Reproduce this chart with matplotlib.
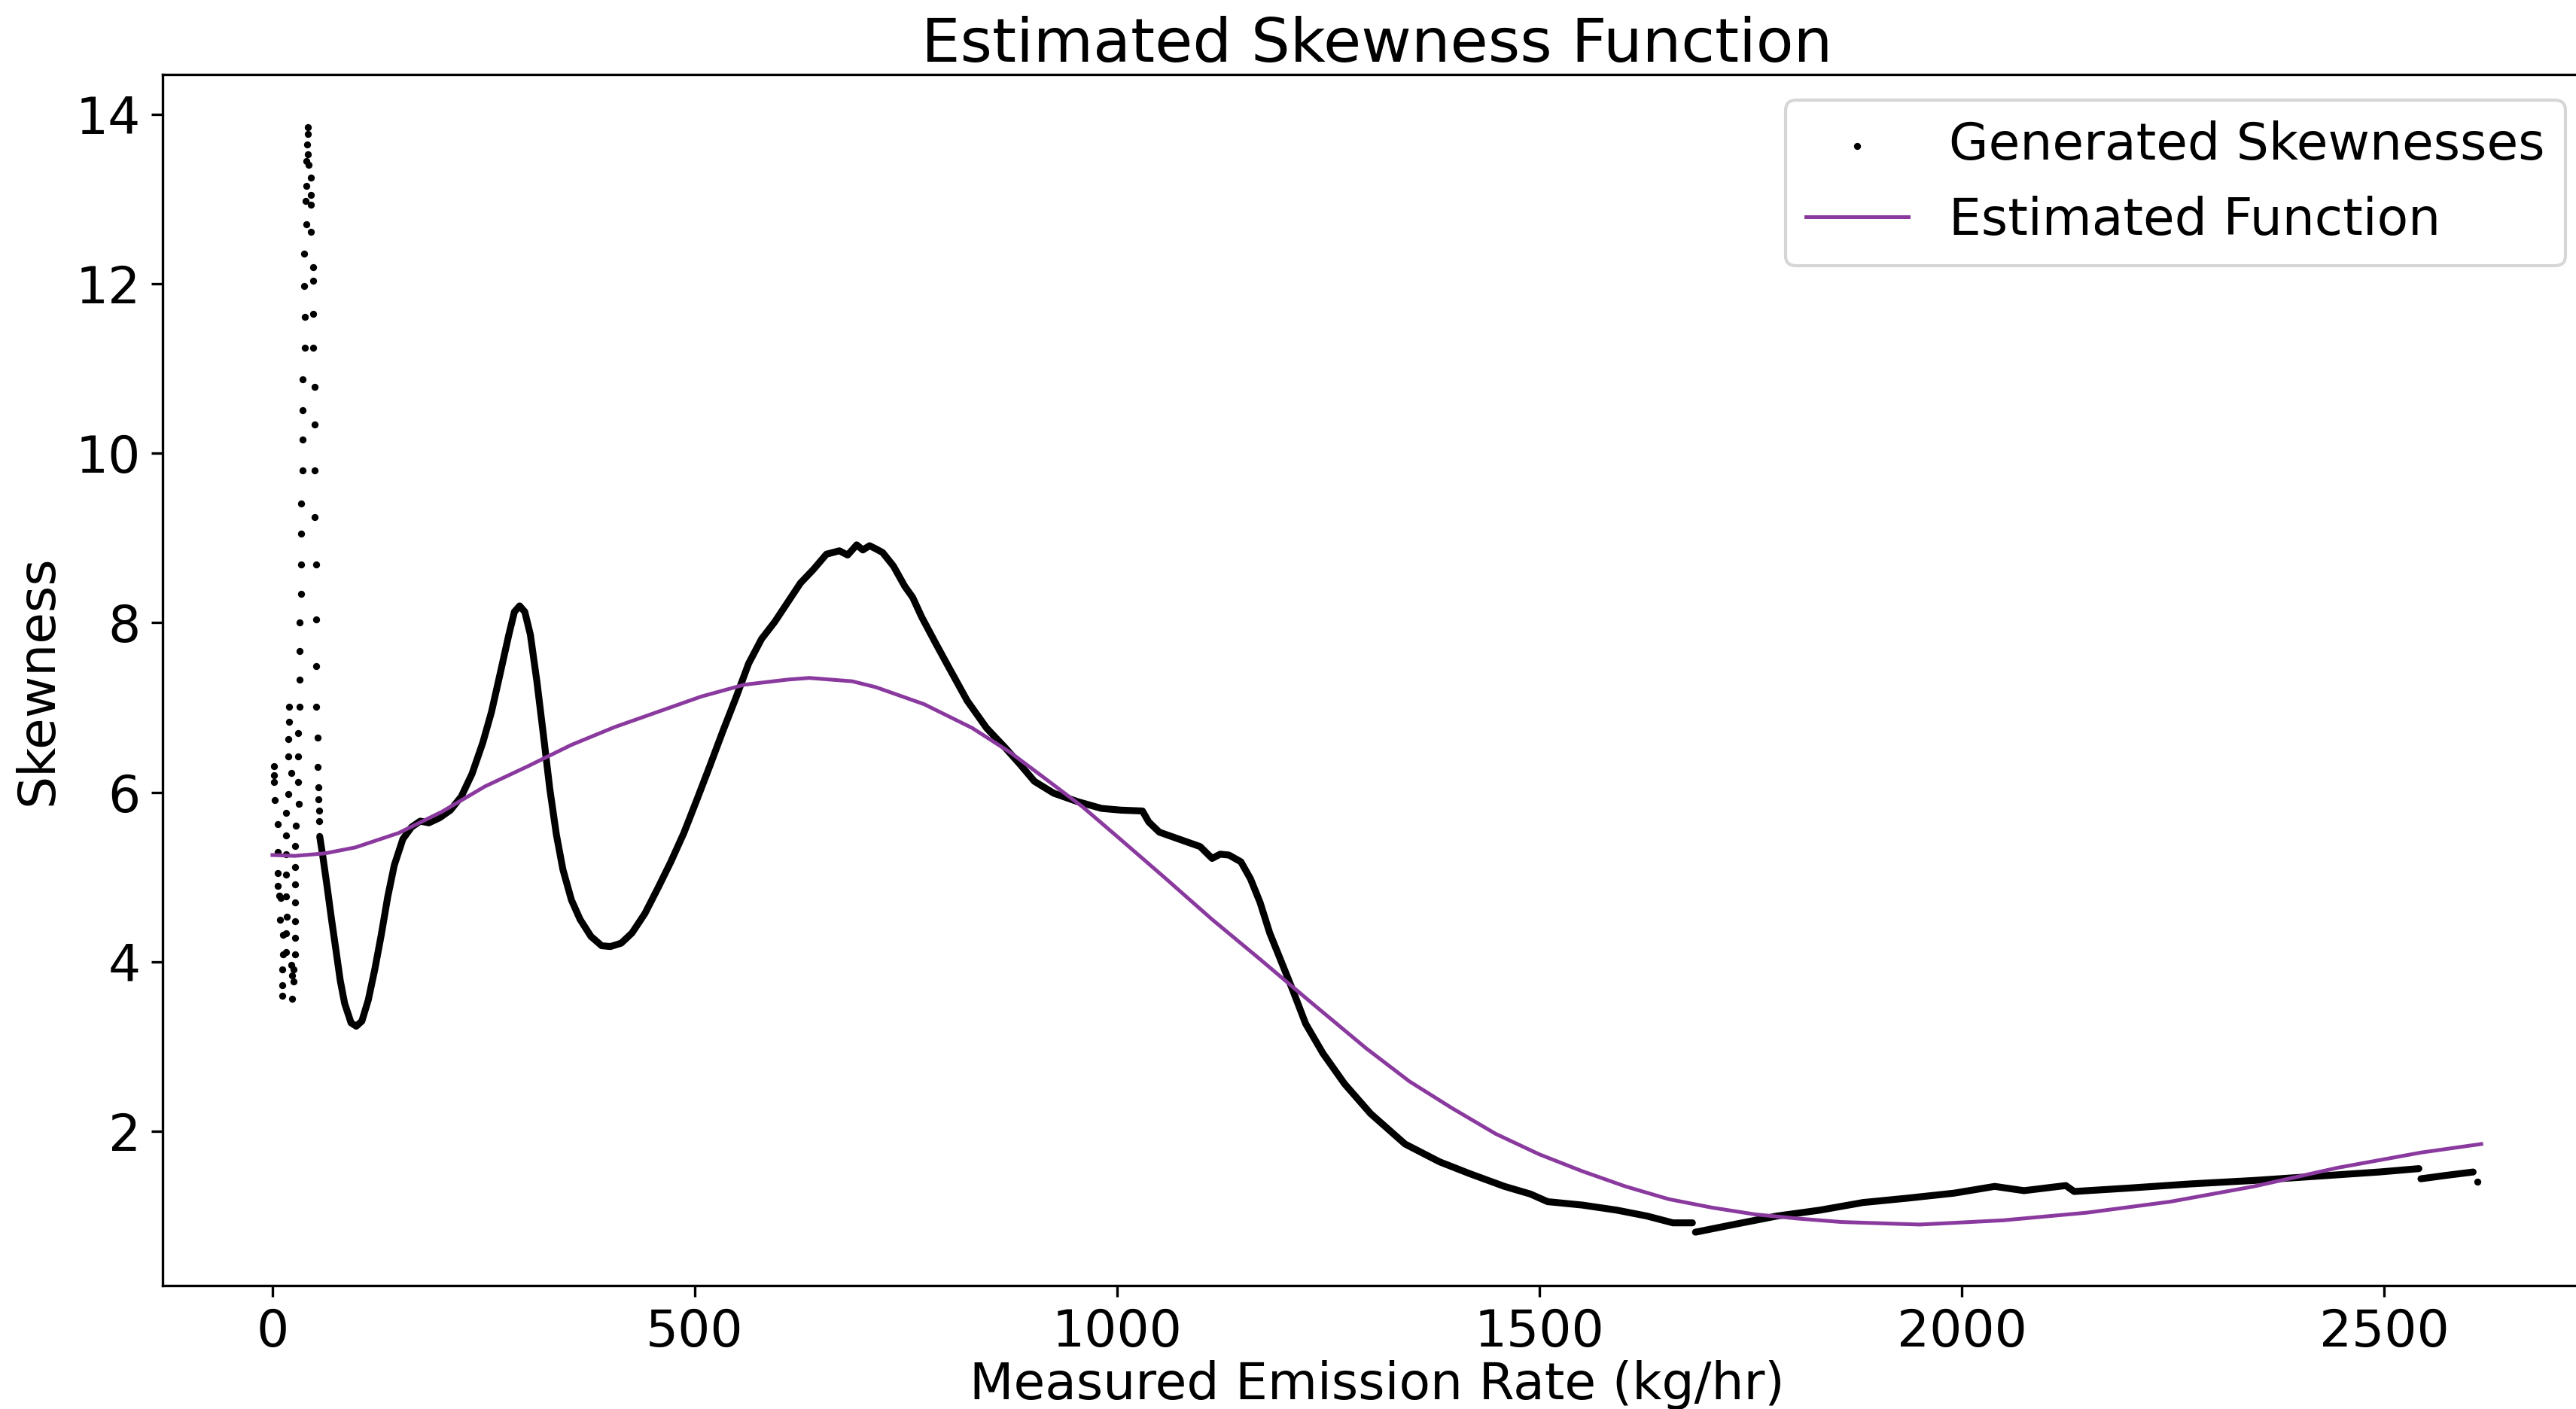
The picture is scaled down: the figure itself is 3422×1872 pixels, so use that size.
import numpy as np
import matplotlib
matplotlib.use('Agg')
import matplotlib.pyplot as plt

# sparse generated skewness points at the low end (x < ~56)
sparseX = [2, 2, 2, 3, 6.5, 6.5, 6.5, 6.5, 8, 10, 9, 13, 13, 11.5, 11.5, 11.5,
           20, 20, 18.4, 18.4, 22, 18.4, 16, 16, 16, 16, 16, 17, 16, 16, 22, 23.5, 23.5,
           31.8, 31.8, 30.3, 30.3, 30.3, 31, 28, 26.5, 27, 27, 26.5, 26.5, 26.5, 26.5, 25, 25,
           31.8, 31.8, 33.9, 33.9, 33.9, 33.9, 35.4, 35.4, 35.4, 35.4, 38.3, 38.3, 37.5, 37.5,
           39.8, 39, 39.8, 39.8,
           42.2, 42.2, 41.5, 42.2, 43, 45.7, 45.7, 45.7, 45.7, 48, 48, 48, 48, 50.2, 50.2,
           50.2, 50.2, 51.7, 51.7, 51.7, 51.7, 54, 54, 54.5, 54.5, 55, 55, 2610.3]
sparseY = [6.31, 6.20, 6.12, 5.91, 5.62, 5.30, 5.05, 4.90, 4.78, 4.75, 4.50, 4.32, 4.09, 3.91, 3.72, 3.60,
           7.01, 6.83, 6.63, 6.42, 6.23, 5.98, 5.76, 5.49, 5.27, 5.03, 4.77, 4.53, 4.34, 4.11, 3.96, 3.84, 3.56,
           7.33, 7.01, 6.70, 6.42, 6.12, 5.86, 5.61, 5.37, 5.12, 4.91, 4.70, 4.48, 4.28, 4.09, 3.91, 3.77,
           7.67, 8.00, 8.34, 8.69, 9.05, 9.41, 9.80, 10.16, 10.51, 10.87, 11.25, 11.61, 11.97, 12.36,
           12.70, 12.98, 13.16, 13.45,
           13.85, 13.77, 13.64, 13.53, 13.40, 13.25, 13.05, 12.93, 12.61, 12.20, 12.04, 11.65, 11.25, 10.78, 10.34,
           9.80, 9.25, 8.69, 8.04, 7.49, 7.01, 6.65, 6.30, 6.06, 5.92, 5.78, 5.66, 1.41]

# dense part of the generated skewnesses, read as a trace (three runs)
denseX1 = [56, 59.9, 65, 70, 75.2, 80.3, 85.5, 93.1, 99.3, 105.9, 113.5, 121.2, 128.9, 136.6,
           144.3, 154.5, 164.7, 175, 185.2, 198, 210.8, 223.6, 236.4, 249.2, 259.4, 269.6, 279.9,
           286.5, 292.7, 298.8, 305.4, 313.1, 320.8, 328.4, 336.2, 343.9, 354, 364.3, 377.1, 389.8,
           400, 412.9, 425.7, 441, 456.4, 471.7, 487.1, 502.4, 517.8, 533.2, 548.5, 563.8, 579.1,
           594.6, 609.9, 625.2, 640.5, 655.9, 671.2, 681, 691.7, 699, 707, 715, 722.4, 735.2, 748.7,
           758, 768.6, 785.7, 802.7, 822.6, 845.4, 868.1, 885.1, 902.1, 924.9, 953.3, 981.7, 1004.5,
           1030, 1037.5, 1050, 1072.7, 1098.3, 1112.5, 1122, 1132.4, 1146.6, 1157.9, 1169.3, 1180.7,
           1194.9, 1207.8, 1223.2, 1243.7, 1269.3, 1300, 1340.9, 1381.8, 1417.6, 1458.6, 1489.3,
           1509.7, 1550.6, 1591.6, 1627.4, 1658.1, 1681.1]
denseY1 = [5.48, 5.23, 4.87, 4.50, 4.14, 3.78, 3.51, 3.28, 3.24, 3.30, 3.55, 3.91, 4.32, 4.77,
           5.14, 5.45, 5.59, 5.66, 5.64, 5.70, 5.79, 5.95, 6.22, 6.59, 6.95, 7.40, 7.86,
           8.13, 8.20, 8.13, 7.86, 7.31, 6.68, 6.04, 5.50, 5.09, 4.73, 4.50, 4.30, 4.19,
           4.18, 4.22, 4.34, 4.57, 4.87, 5.18, 5.52, 5.91, 6.31, 6.72, 7.11, 7.52, 7.81,
           8.01, 8.24, 8.47, 8.63, 8.81, 8.85, 8.80, 8.92, 8.86, 8.91, 8.87, 8.83, 8.67, 8.43,
           8.30, 8.07, 7.75, 7.44, 7.08, 6.76, 6.52, 6.33, 6.13, 5.99, 5.89, 5.81, 5.79,
           5.78, 5.65, 5.53, 5.45, 5.36, 5.22, 5.27, 5.26, 5.18, 4.98, 4.70, 4.34,
           3.99, 3.67, 3.27, 2.92, 2.56, 2.21, 1.85, 1.64, 1.50, 1.35, 1.26,
           1.17, 1.13, 1.07, 1.00, 0.92, 0.92]
denseX2 = [1684.7, 1729.8, 1781, 1832.1, 1883.2, 1934.4, 1990.6, 2039, 2073.7, 2123.2, 2133,
           2197.4, 2271.6, 2345.8, 2420, 2494.1, 2541.2]
denseY2 = [0.81, 0.90, 1.00, 1.07, 1.16, 1.21, 1.27, 1.35, 1.30, 1.36, 1.29,
           1.33, 1.38, 1.42, 1.47, 1.52, 1.56]
denseX3 = [2543.6, 2573.3, 2605.4]
denseY3 = [1.44, 1.48, 1.52]

# estimated function (purple curve)
fitX = [0, 26.6, 62.4, 98.2, 149.4, 200.5, 251.7, 302.9, 354, 405.2, 456.4, 507.6, 558.7,
        609.9, 635.5, 686.6, 714.6, 771.5, 828.3, 873.7, 919.2, 959, 998.8, 1055.6, 1112.5,
        1169.3, 1226.2, 1294.8, 1346, 1397.1, 1448.3, 1499.5, 1550.6, 1601.8, 1653, 1704.1,
        1755.3, 1806.5, 1857.6, 1919, 1950, 1990.6, 2049, 2148, 2247, 2346, 2445, 2544, 2615]
fitY = [5.26, 5.25, 5.28, 5.35, 5.52, 5.77, 6.07, 6.31, 6.56, 6.77, 6.95, 7.13, 7.27,
        7.33, 7.35, 7.31, 7.24, 7.04, 6.76, 6.47, 6.13, 5.83, 5.49, 5.00, 4.50,
        4.03, 3.55, 2.98, 2.59, 2.27, 1.97, 1.73, 1.53, 1.35, 1.20, 1.10,
        1.02, 0.97, 0.93, 0.91, 0.90, 0.92, 0.95, 1.04, 1.17, 1.35, 1.57, 1.75, 1.85]

plt.rcParams['font.size'] = 16.3

figure = plt.figure(figsize=(3422 / 300, 1872 / 300), dpi=300)
axes = figure.add_axes([216 / 3422, 164 / 1872, 3226 / 3422, 1609 / 1872])

for dx, dy in [(denseX1, denseY1), (denseX2, denseY2), (denseX3, denseY3)]:
    axes.plot(dx, dy, color='black', linewidth=2.2, solid_capstyle='round',
              solid_joinstyle='round')
sc = axes.scatter(sparseX, sparseY, s=5, color='black', linewidths=0)
fitLine, = axes.plot(fitX, fitY, color='#8a3a9e', linewidth=1.2)

axes.set_xlim(-130, 2745)
axes.set_ylim(0.18, 14.47)
axes.set_title('Estimated Skewness Function', pad=4)
axes.set_xlabel('Measured Emission Rate (kg/hr)', labelpad=1)
axes.set_ylabel('Skewness')
axes.legend([sc, fitLine], ['Generated Skewnesses', 'Estimated Function'],
            loc='upper right', scatterpoints=1)

plt.savefig('out.png', dpi=300)
